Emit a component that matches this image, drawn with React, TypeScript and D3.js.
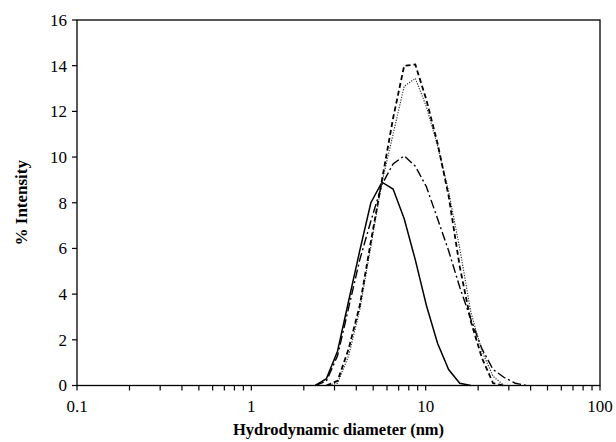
import * as d3 from "d3";
import React from "react";

// DLS size bins (nm) and % intensity
const sizes = [2.328, 2.696, 3.122, 3.615, 4.187, 4.849, 5.615, 6.503, 7.531, 8.721, 10.1, 11.7, 13.54, 15.69, 18.17, 21.04, 24.36, 28.21, 32.67, 37.84];

const solid = [0, 0.3, 1.5, 3.7, 5.9, 8.0, 8.9, 8.6, 7.3, 5.5, 3.5, 1.85, 0.7, 0.1, 0, null, null, null, null, null];
const dashed = [null, 0, 0.2, 1.6, 3.5, 6.3, 9.0, 11.7, 14.0, 14.05, 12.5, 10.6, 8.3, 5.2, 2.8, 1.2, 0.1, 0, null, null];
const dotted = [null, 0, 0.1, 1.3, 3.3, 6.1, 8.9, 11.0, 13.1, 13.45, 12.2, 10.5, 8.5, 6.0, 3.2, 1.5, 0.4, 0, null, null];
const dashDot = [0, 0.2, 1.3, 3.4, 5.5, 7.2, 8.8, 9.7, 10.05, 9.6, 8.7, 7.3, 5.9, 4.3, 2.9, 1.6, 0.7, 0.35, 0.1, 0];

const xMajor = [0.1, 1, 10, 100];
const yTicks = [0, 2, 4, 6, 8, 10, 12, 14, 16];

const series = [
  { name: "solid", values: solid, dash: "none", width: 1.5, color: "#000" },
  { name: "dashDot", values: dashDot, dash: "9,3,2,3", width: 1.4, color: "#000" },
  { name: "dotted", values: dotted, dash: "1.2,1.4", width: 1.2, color: "#333" },
  { name: "dashed", values: dashed, dash: "5,3", width: 1.8, color: "#000" },
];

const W = 616;
const H = 442;
const left = 77, right = 600, top = 20, bottom = 385.5;

export default function App() {
  const x = d3.scaleLog().domain([0.1, 100]).range([left, right]);
  const y = d3.scaleLinear().domain([0, 16]).range([bottom, top]);

  const line = d3
    .line<[number, number | null]>()
    .defined((d) => d[1] !== null)
    .x((d) => x(d[0]))
    .y((d) => y(d[1] as number));

  const minor = x.ticks();
  const font = "'Liberation Serif', 'Times New Roman', serif";

  return (
    <svg width={W} height={H} style={{ position: "absolute", left: 0, top: 0, background: "#fff" }} fontFamily={font}>
      <rect x={left} y={top} width={right - left} height={bottom - top} fill="none" stroke="#000" strokeWidth={1.3} />

      {series.map((s) => (
        <path
          key={s.name}
          d={line(sizes.map((d, i) => [d, s.values[i]]) as [number, number | null][]) || ""}
          fill="none"
          stroke={s.color}
          strokeWidth={s.width}
          strokeDasharray={s.dash}
        />
      ))}

      {/* y axis */}
      {yTicks.map((t) => (
        <g key={t}>
          <line x1={left - 5} x2={left} y1={y(t)} y2={y(t)} stroke="#000" strokeWidth={1.2} />
          <text x={left - 10} y={y(t)} dy="0.35em" textAnchor="end" fontSize={17}>
            {t}
          </text>
        </g>
      ))}

      {/* x axis */}
      {minor.map((t, i) => (
        <line key={i} x1={x(t)} x2={x(t)} y1={bottom} y2={bottom + 5} stroke="#000" strokeWidth={1.2} />
      ))}
      {xMajor.map((t) => (
        <text key={t} x={x(t)} y={bottom + 26} textAnchor="middle" fontSize={17}>
          {t}
        </text>
      ))}

      <text x={(left + right) / 2} y={435} textAnchor="middle" fontSize={16.5} fontWeight="bold">
        Hydrodynamic diameter (nm)
      </text>
      <text transform={`translate(27,${(top + bottom) / 2}) rotate(-90)`} textAnchor="middle" fontSize={17} fontWeight="bold">
        % Intensity
      </text>
    </svg>
  );
}
